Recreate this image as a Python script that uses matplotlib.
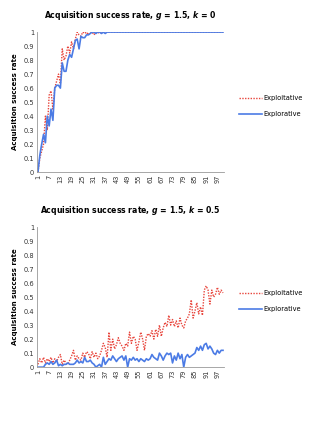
import numpy as np
import matplotlib
matplotlib.use("Agg")
import matplotlib.pyplot as plt

plt.rcParams["font.family"] = "DejaVu Sans"
plt.rcParams["mathtext.fontset"] = "custom"
plt.rcParams["mathtext.it"] = "DejaVu Sans:italic:bold"
plt.rcParams["mathtext.rm"] = "DejaVu Sans:bold"

trials = np.arange(1, 101)

# k = 0
exploit_k0 = [0, 0.10, 0.15, 0.20, 0.40, 0.30, 0.55, 0.58, 0.45, 0.60,
              0.65, 0.70, 0.63, 0.88, 0.80, 0.83, 0.90, 0.85, 0.93, 0.88,
              0.95, 1.00, 0.98, 0.97, 1.00, 0.99, 1.00, 0.98, 1.00, 1.00,
              0.98, 1.00, 1.00, 0.99, 1.00, 1.00, 1.00, 1.00, 1.00, 1.00] + [1.0] * 60
explore_k0 = [0, 0.12, 0.20, 0.27, 0.21, 0.40, 0.33, 0.45, 0.37, 0.60,
              0.62, 0.62, 0.60, 0.78, 0.72, 0.72, 0.80, 0.84, 0.82, 0.88,
              0.94, 0.95, 0.88, 0.97, 0.96, 0.96, 0.98, 0.98, 0.99, 1.00,
              1.00, 0.99, 1.00, 1.00, 0.99, 1.00, 0.99, 1.00, 1.00, 1.00] + [1.0] * 60

# k = 0.5
exploit_k05 = [0.02, 0.06, 0.03, 0.07, 0.03, 0.06, 0.04, 0.07, 0.03, 0.06,
               0.04, 0.07, 0.09, 0.02, 0.05, 0.03, 0.02, 0.05, 0.08, 0.12,
               0.05, 0.08, 0.06, 0.05, 0.10, 0.07, 0.11, 0.10, 0.06, 0.11,
               0.07, 0.10, 0.06, 0.08, 0.12, 0.17, 0.14, 0.07, 0.25, 0.12,
               0.20, 0.13, 0.16, 0.21, 0.17, 0.15, 0.12, 0.17, 0.15, 0.25,
               0.17, 0.22, 0.20, 0.12, 0.18, 0.25, 0.20, 0.12, 0.22, 0.24,
               0.22, 0.26, 0.20, 0.27, 0.22, 0.30, 0.22, 0.28, 0.32, 0.29,
               0.37, 0.30, 0.34, 0.29, 0.33, 0.28, 0.35, 0.30, 0.28, 0.33,
               0.35, 0.38, 0.48, 0.35, 0.40, 0.46, 0.38, 0.43, 0.37, 0.55,
               0.58, 0.55, 0.45, 0.55, 0.50, 0.52, 0.57, 0.52, 0.55, 0.53]
explore_k05 = [0, 0, 0, 0, 0.02, 0.03, 0.02, 0.04, 0.02, 0.03,
               0.05, 0.01, 0.02, 0.01, 0.02, 0.02, 0.03, 0.02, 0.02, 0.02,
               0.03, 0.05, 0.03, 0.04, 0.03, 0.07, 0.04, 0.04, 0.05, 0.03,
               0.02, 0.00, 0.01, 0.02, 0.00, 0.07, 0.02, 0.04, 0.06, 0.05,
               0.08, 0.06, 0.04, 0.06, 0.07, 0.08, 0.05, 0.08, 0.00, 0.06,
               0.05, 0.07, 0.05, 0.06, 0.04, 0.06, 0.05, 0.04, 0.06, 0.05,
               0.06, 0.09, 0.07, 0.06, 0.05, 0.10, 0.08, 0.05, 0.08, 0.10,
               0.09, 0.10, 0.03, 0.08, 0.05, 0.10, 0.06, 0.09, 0.00, 0.07,
               0.09, 0.07, 0.08, 0.09, 0.10, 0.14, 0.12, 0.15, 0.12, 0.16,
               0.17, 0.13, 0.15, 0.13, 0.10, 0.09, 0.12, 0.10, 0.12, 0.12]

red = "#e8453c"
blue = "#4b7be5"

fig = plt.figure(figsize=(3.19, 4.22), dpi=100)
ax_top = fig.add_axes([0.116, 0.592, 0.586, 0.332])
ax_bot = fig.add_axes([0.116, 0.130, 0.586, 0.332])

def draw_panel(ax, exploit, explore, title):
    ax.plot(trials, exploit, color=red, ls=(0, (1, 1)), lw=1.0, label="Exploitative")
    ax.plot(trials, explore, color=blue, lw=1.2, label="Explorative")
    ax.set_xlim(0.5, 100.5)
    ax.set_ylim(0, 1)
    ax.set_yticks(np.arange(0, 1.01, 0.1))
    ax.set_yticklabels(["0"] + [f"{v:.1f}" for v in np.arange(0.1, 0.95, 0.1)] + ["1"])
    ax.set_xticks(range(1, 101, 6))
    ax.set_xticklabels([str(t) for t in range(1, 101, 6)], rotation=90)
    ax.tick_params(length=0, labelsize=4.8, pad=2, colors="#333333")
    for s in ["top", "right"]:
        ax.spines[s].set_visible(False)
    for s in ["left", "bottom"]:
        ax.spines[s].set_color("#999999")
        ax.spines[s].set_linewidth(0.6)
    ax.set_ylabel("Acquisition success rate", fontsize=5, fontweight="bold", labelpad=4)
    ax.set_title(title, fontsize=5.6, fontweight="bold", pad=10)
    ax.legend(loc="center left", bbox_to_anchor=(1.05, 0.47), frameon=False,
              fontsize=4.8, handlelength=3.4, handletextpad=0.2, labelspacing=1.5)

draw_panel(ax_top, exploit_k0, explore_k0, r"Acquisition success rate, $g$ = 1.5, $k$ = 0")
draw_panel(ax_bot, exploit_k05, explore_k05, r"Acquisition success rate, $g$ = 1.5, $k$ = 0.5")

fig.savefig("out.png", dpi=100)
